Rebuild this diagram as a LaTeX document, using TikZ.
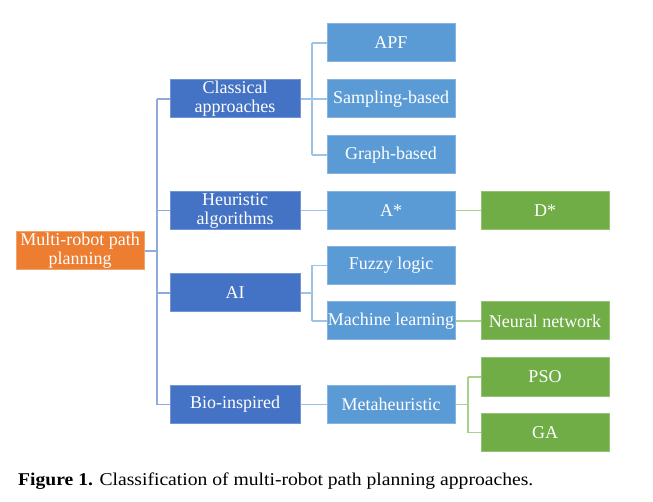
\documentclass[tikz,border=0pt]{standalone}
\usepackage{fontspec}
\setmainfont{Liberation Serif}
\definecolor{cOrange}{HTML}{ED7D31}
\definecolor{cDark}{HTML}{4472C4}
\definecolor{cMid}{HTML}{5B9BD5}
\definecolor{cGreen}{HTML}{70AD47}
\definecolor{lDark}{HTML}{8FAADC}
\definecolor{lMid}{HTML}{9DC3E6}
\definecolor{lGreen}{HTML}{A9D18E}
\tikzset{
  box/.style={minimum height=38pt, inner sep=0pt, text=white, font=\fontsize{18}{19}\selectfont, align=center, line width=1pt},
  rootbox/.style={box, minimum width=128pt, fill=cOrange, draw=cOrange!70!white},
  lvone/.style={box, minimum width=130pt, fill=cDark, draw=cDark!75!white},
  lvtwo/.style={box, minimum width=128pt, fill=cMid, draw=cMid!75!white},
  lvthree/.style={box, minimum width=128pt, fill=cGreen, draw=cGreen!75!white},
  cone/.style={draw=lDark, line width=1.5pt},
  ctwo/.style={draw=lMid, line width=1.5pt},
  cthree/.style={draw=lGreen, line width=1.5pt},
}
\begin{document}
\begin{tikzpicture}[x=1pt,y=-1pt]
\useasboundingbox (0,0) rectangle (653,502);
\coordinate (t1) at (157,0);
\coordinate (t2) at (312,0);
\coordinate (t3) at (468,0);
\node[rootbox] (root) at (80,251) {Multi-robot path\\planning};
\node[lvone] (cla) at (235,99) {Classical\\approaches};
\node[lvone] (heu) at (235,210.5) {Heuristic\\algorithms};
\node[lvone] (ai) at (235,293) {AI};
\node[lvone] (bio) at (235,404.5) {Bio-inspired};
\node[lvtwo] (apf) at (391,43) {APF};
\node[lvtwo] (samp) at (391,99) {Sampling-based};
\node[lvtwo] (graph) at (391,155) {Graph-based};
\node[lvtwo] (astar) at (391,210.5) {A*};
\node[lvtwo] (fuzzy) at (391,265.5) {Fuzzy logic};
\node[lvtwo] (ml) at (391,321) {Machine learning};
\node[lvtwo] (meta) at (391,404.5) {Metaheuristic};
\node[lvthree] (dstar) at (545,210.5) {D*};
\node[lvthree] (nn) at (545,321) {Neural network};
\node[lvthree] (pso) at (545,377) {PSO};
\node[lvthree] (ga) at (545,432.5) {GA};
\draw[cone] (root.east) -- (t1 |- root.east);
\draw[cone] (t1 |- cla.west) -- (t1 |- bio.west);
\foreach \n in {cla,heu,ai,bio} \draw[cone] (t1 |- \n.west) -- (\n.west);
\draw[ctwo] (cla.east) -- (t2 |- cla.east);
\draw[ctwo] (t2 |- apf.west) -- (t2 |- graph.west);
\foreach \n in {apf,samp,graph} \draw[ctwo] (t2 |- \n.west) -- (\n.west);
\draw[ctwo] (heu.east) -- (astar.west);
\draw[ctwo] (ai.east) -- (t2 |- ai.east);
\draw[ctwo] (t2 |- fuzzy.west) -- (t2 |- ml.west);
\foreach \n in {fuzzy,ml} \draw[ctwo] (t2 |- \n.west) -- (\n.west);
\draw[ctwo] (bio.east) -- (meta.west);
\draw[cthree] (astar.east) -- (dstar.west);
\draw[cthree] (ml.east) -- (nn.west);
\draw[cthree] (meta.east) -- (t3 |- meta.east);
\draw[cthree] (t3 |- pso.west) -- (t3 |- ga.west);
\foreach \n in {pso,ga} \draw[cthree] (t3 |- \n.west) -- (\n.west);
\node[anchor=base west, inner sep=0pt, font=\fontsize{18}{18}\selectfont] (cap) at (18,485)
  {\scalebox{1.09}[1]{\textbf{Figure 1.} Classification of multi-robot path planning approaches.}};
\end{tikzpicture}
\end{document}
